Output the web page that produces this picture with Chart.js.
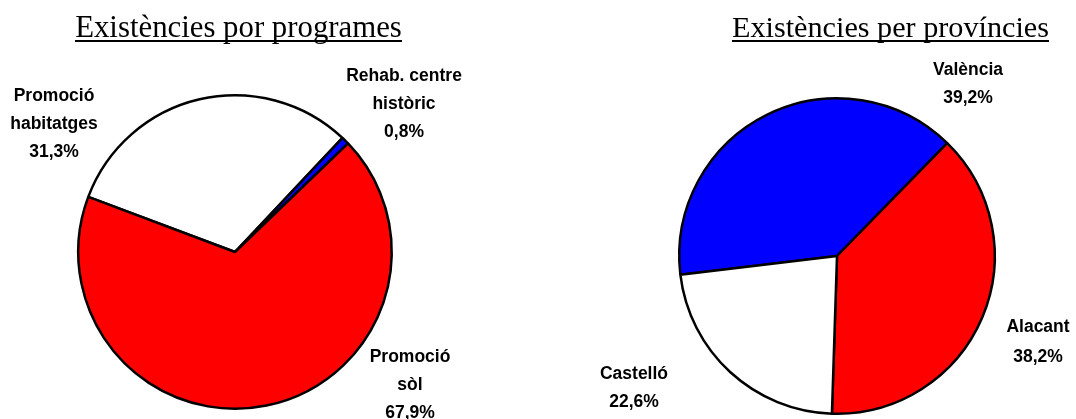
<!DOCTYPE html>
<html>
<head>
<meta charset="utf-8">
<script src="https://cdn.jsdelivr.net/npm/chart.js@4/dist/chart.umd.min.js"></script>
<style>
    html, body { margin: 0; padding: 0; background: #fff; }
    #wrap { position: relative; width: 1076px; height: 419px; }
    canvas { position: absolute; top: 0; }
</style>
</head>
<body>
<div id="wrap">
    <canvas id="programesChart" width="538" height="419" style="left:0"></canvas>
    <canvas id="provinciesChart" width="538" height="419" style="left:538px"></canvas>
</div>
<script>
// Existències por programes
const programesTitle = 'Existències por programes';
const programesLabels = [['Promoció', 'habitatges'], ['Rehab. centre', 'històric'], ['Promoció', 'sòl']];
const programesValues = [31.3, 0.8, 67.9];
const programesColors = ['#FFFFFF', '#0000FF', '#FF0000'];

// Existències per províncies
const provinciesTitle = 'Existències per províncies';
const provinciesLabels = [['València'], ['Alacant'], ['Castelló']];
const provinciesValues = [39.2, 38.2, 22.6];
const provinciesColors = ['#0000FF', '#FF0000', '#FFFFFF'];

const pctText = v => v.toFixed(1).replace('.', ',') + '%';

// Titles (underlined) and slice labels, drawn after the pie
const sliceLabels = {
    id: 'sliceLabels',
    afterDraw(chart, args, opts) {
        const ctx = chart.ctx;
        ctx.save();
        ctx.fillStyle = '#000';
        ctx.textAlign = 'center';
        ctx.textBaseline = 'alphabetic';

        ctx.font = opts.titleSize + 'px "Liberation Serif", "Times New Roman", serif';
        ctx.fillText(opts.title, opts.titleX, opts.titleY);
        const w = ctx.measureText(opts.title).width;
        ctx.fillRect(Math.round(opts.titleX - w / 2), opts.titleY + 3, Math.round(w), 2);

        ctx.font = 'bold 17.5px "Liberation Sans", Arial, sans-serif';
        const values = chart.data.datasets[0].data;
        chart.data.labels.forEach((lines, i) => {
            const p = opts.positions[i];
            [...lines, pctText(values[i])].forEach((t, j) => {
                ctx.fillText(t, p.x, p.y + j * (p.gap || 28));
            });
        });
        ctx.restore();
    }
};

const makePie = (id, labels, values, colors, rotation, padding, labelOpts) => {
    const ctx = document.getElementById(id).getContext('2d');
    return new Chart(ctx, {
        type: 'pie',
        data: {
            labels: labels,
            datasets: [{
                data: values,
                backgroundColor: colors,
                borderColor: '#000',
                borderWidth: 2.5,
                hoverOffset: 0
            }]
        },
        options: {
            responsive: false,
            animation: false,
            rotation: rotation,
            layout: { padding: padding },
            events: [],
            plugins: {
                legend: { display: false },
                tooltip: { enabled: false },
                sliceLabels: labelOpts
            }
        },
        plugins: [sliceLabels]
    });
};

makePie('programesChart', programesLabels, programesValues, programesColors, -69.4,
    { left: 77, right: 145, top: 94, bottom: 9 },
    {
        title: programesTitle, titleX: 238.5, titleY: 37, titleSize: 30.8,
        positions: [
            { x: 54, y: 101 },
            { x: 404, y: 81 },
            { x: 410, y: 362 }
        ]
    });

makePie('provinciesChart', provinciesLabels, provinciesValues, provinciesColors, -96.8,
    { left: 140, right: 80, top: 97, bottom: 4 },
    {
        title: provinciesTitle, titleX: 352.5, titleY: 37, titleSize: 30.2,
        positions: [
            { x: 430, y: 75 },
            { x: 500, y: 332, gap: 30 },
            { x: 96, y: 379 }
        ]
    });
</script>
</body>
</html>
